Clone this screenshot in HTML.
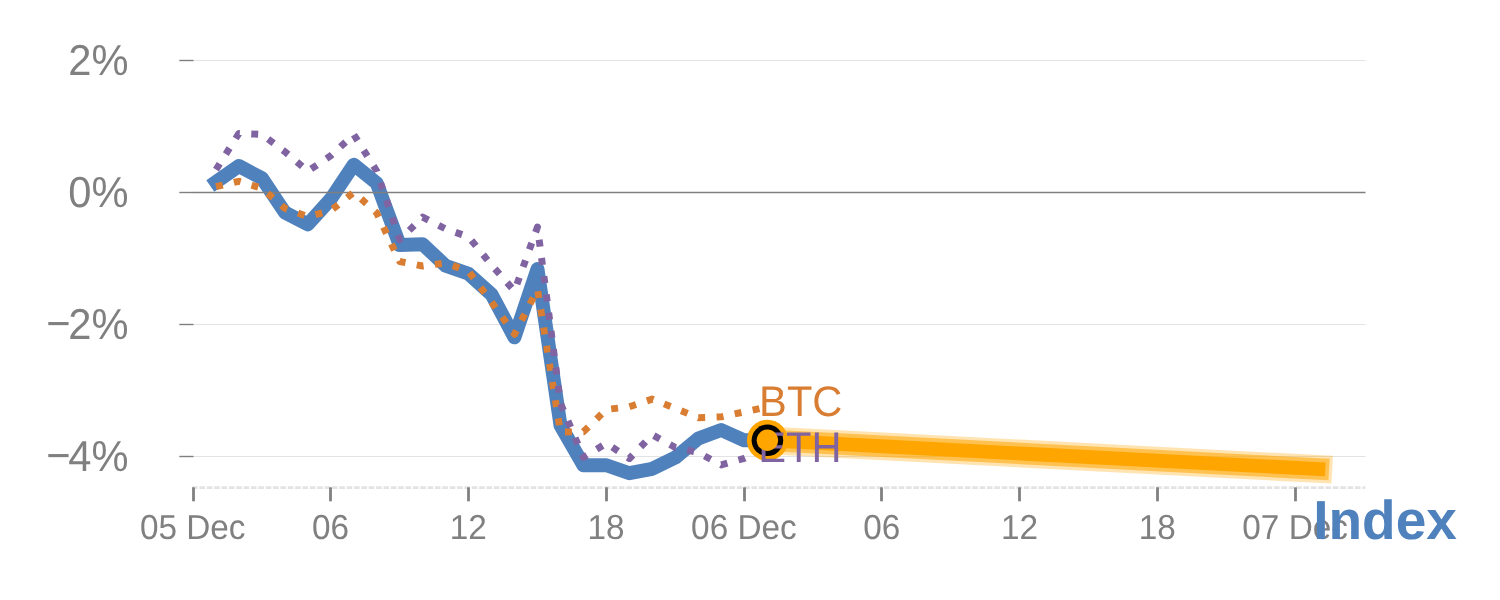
<!DOCTYPE html>
<html><head><meta charset="utf-8"><title>Index</title>
<style>
html,body{margin:0;padding:0;background:#fff;}
body{width:1500px;height:600px;overflow:hidden;}
svg{display:block;}
text{font-family:"Liberation Sans",Arial,sans-serif;text-rendering:geometricPrecision;}
.yl{font-size:41.67px;fill:#808080;text-anchor:end;}
.xl{font-size:33.33px;fill:#808080;text-anchor:middle;}
</style></head><body>
<svg width="1500" height="600" viewBox="0 0 1500 600">
<rect width="1500" height="600" fill="#ffffff"/>
<g stroke="#e3e3e3" stroke-width="1">
<line x1="193" y1="60.5" x2="1365.5" y2="60.5"/>
<line x1="193" y1="324.5" x2="1365.5" y2="324.5"/>
<line x1="193" y1="456.5" x2="1365.5" y2="456.5"/>
</g>
<line x1="192.1" y1="487.6" x2="1365.5" y2="487.6" stroke="#e3e3e3" stroke-width="2.8" stroke-dasharray="5.6,1.76"/>
<g stroke="#7f7f7f" stroke-width="1.39">
<line x1="179.3" y1="60.5" x2="193.5" y2="60.5"/>
<line x1="179.3" y1="192.5" x2="193.5" y2="192.5"/>
<line x1="179.3" y1="324.5" x2="193.5" y2="324.5"/>
<line x1="179.3" y1="456.5" x2="193.5" y2="456.5"/>
</g>
<g stroke="#808080" stroke-width="2.8">
<line x1="193.5" y1="487.3" x2="193.5" y2="501.3"/>
<line x1="330.5" y1="487.3" x2="330.5" y2="501.3"/>
<line x1="468.5" y1="487.3" x2="468.5" y2="501.3"/>
<line x1="606.5" y1="487.3" x2="606.5" y2="501.3"/>
<line x1="744.5" y1="487.3" x2="744.5" y2="501.3"/>
<line x1="881.5" y1="487.3" x2="881.5" y2="501.3"/>
<line x1="1019.5" y1="487.3" x2="1019.5" y2="501.3"/>
<line x1="1157.5" y1="487.3" x2="1157.5" y2="501.3"/>
<line x1="1295.5" y1="487.3" x2="1295.5" y2="501.3"/>
</g>
<g class="yl">
<text transform="translate(128.5,75) scale(1,1.04)">2%</text>
<text transform="translate(128.5,207) scale(1,1.04)">0%</text>
<text transform="translate(0,339) scale(1,1.04)"><tspan x="70.7" y="-0.9">−</tspan><tspan x="128.5" y="0">2%</tspan></text>
<text transform="translate(0,471) scale(1,1.04)"><tspan x="70.7" y="-0.9">−</tspan><tspan x="128.5" y="0">4%</tspan></text>
</g>
<g class="xl">
<text transform="translate(192.7,539) scale(1,1.04)">05 Dec</text>
<text transform="translate(330.5,539) scale(1,1.04)">06</text>
<text transform="translate(468.3,539) scale(1,1.04)">12</text>
<text transform="translate(606.1,539) scale(1,1.04)">18</text>
<text transform="translate(743.9,539) scale(1,1.04)">06 Dec</text>
<text transform="translate(881.7,539) scale(1,1.04)">06</text>
<text transform="translate(1019.5,539) scale(1,1.04)">12</text>
<text transform="translate(1157.3,539) scale(1,1.04)">18</text>
<text transform="translate(1295.1,539) scale(1,1.04)">07 Dec</text>
</g>
<g fill="none" stroke="#ffa500" stroke-linecap="square">
<line x1="767.4" y1="440.3" x2="1318.3" y2="469" stroke-width="27.8" stroke-opacity="0.3"/>
<line x1="767.4" y1="440.3" x2="1318.3" y2="469" stroke-width="21.5" stroke-opacity="0.55"/>
<line x1="767.4" y1="440.3" x2="1318.3" y2="469" stroke-width="13.9"/>
</g>
<polyline points="216.0,182.0 238.9,166.0 261.9,178.2 284.9,212.5 307.8,224.4 330.8,199.0 353.8,164.7 376.7,183.1 399.7,245.0 422.7,244.3 445.6,265.8 468.6,273.8 491.6,294.5 514.5,337.4 537.5,269.0 560.5,425.5 583.4,465.3 606.4,465.2 629.4,473.2 652.3,468.8 675.3,457.6 698.3,438.5 721.2,430.0 744.2,440.3 767.2,440.3" fill="none" stroke="#4f81bd" stroke-width="13.9" stroke-linejoin="round" stroke-linecap="square"/>
<line x1="193" y1="192.5" x2="1365.5" y2="192.5" stroke="#7f7f7f" stroke-width="1.39"/>
<polyline points="216.0,186.7 238.9,181.3 261.9,188.3 284.9,208.3 307.8,216.7 330.8,210.7 353.8,192.3 376.7,212.9 399.7,261.5 422.7,266.0 445.6,263.0 468.6,271.4 491.6,302.2 514.5,334.3 537.5,289.3 560.5,432.1 583.4,431.7 606.4,409.5 629.4,406.7 652.3,399.1 675.3,408.4 698.3,417.7 721.2,416.9 744.2,411.9 767.2,406.8" fill="none" stroke="#d97d32" stroke-width="6.94" stroke-dasharray="6.94,11.46" stroke-linejoin="round"/>
<polyline points="216.0,169.6 238.9,133.4 261.9,134.4 284.9,151.7 307.8,171.2 330.8,155.7 353.8,134.5 376.7,171.0 399.7,239.8 422.7,217.1 445.6,228.9 468.6,236.9 491.6,265.1 514.5,291.0 537.5,227.0 560.5,403.3 583.4,457.3 606.4,443.3 629.4,458.5 652.3,434.8 675.3,447.5 698.3,452.7 721.2,464.9 744.2,458.4 767.2,448.0" fill="none" stroke="#8064a2" stroke-width="6.94" stroke-dasharray="6.94,11.46" stroke-linejoin="round"/>
<circle cx="767.4" cy="440.3" r="20.5" fill="#ffa500"/>
<circle cx="767.4" cy="440.3" r="15.8" fill="#000000"/>
<text transform="translate(759.1,416) scale(1,1.025)" font-size="41.67" fill="#d97d32">BTC</text>
<text transform="translate(758.2,462) scale(1,1.025)" font-size="41.67" fill="#8064a2">ETH</text>
<circle cx="767.4" cy="440.3" r="10.7" fill="#ffa500"/>
<text x="1313.2" y="539" font-size="55" font-weight="bold" fill="#4f81bd">Index</text>
</svg>
</body></html>
